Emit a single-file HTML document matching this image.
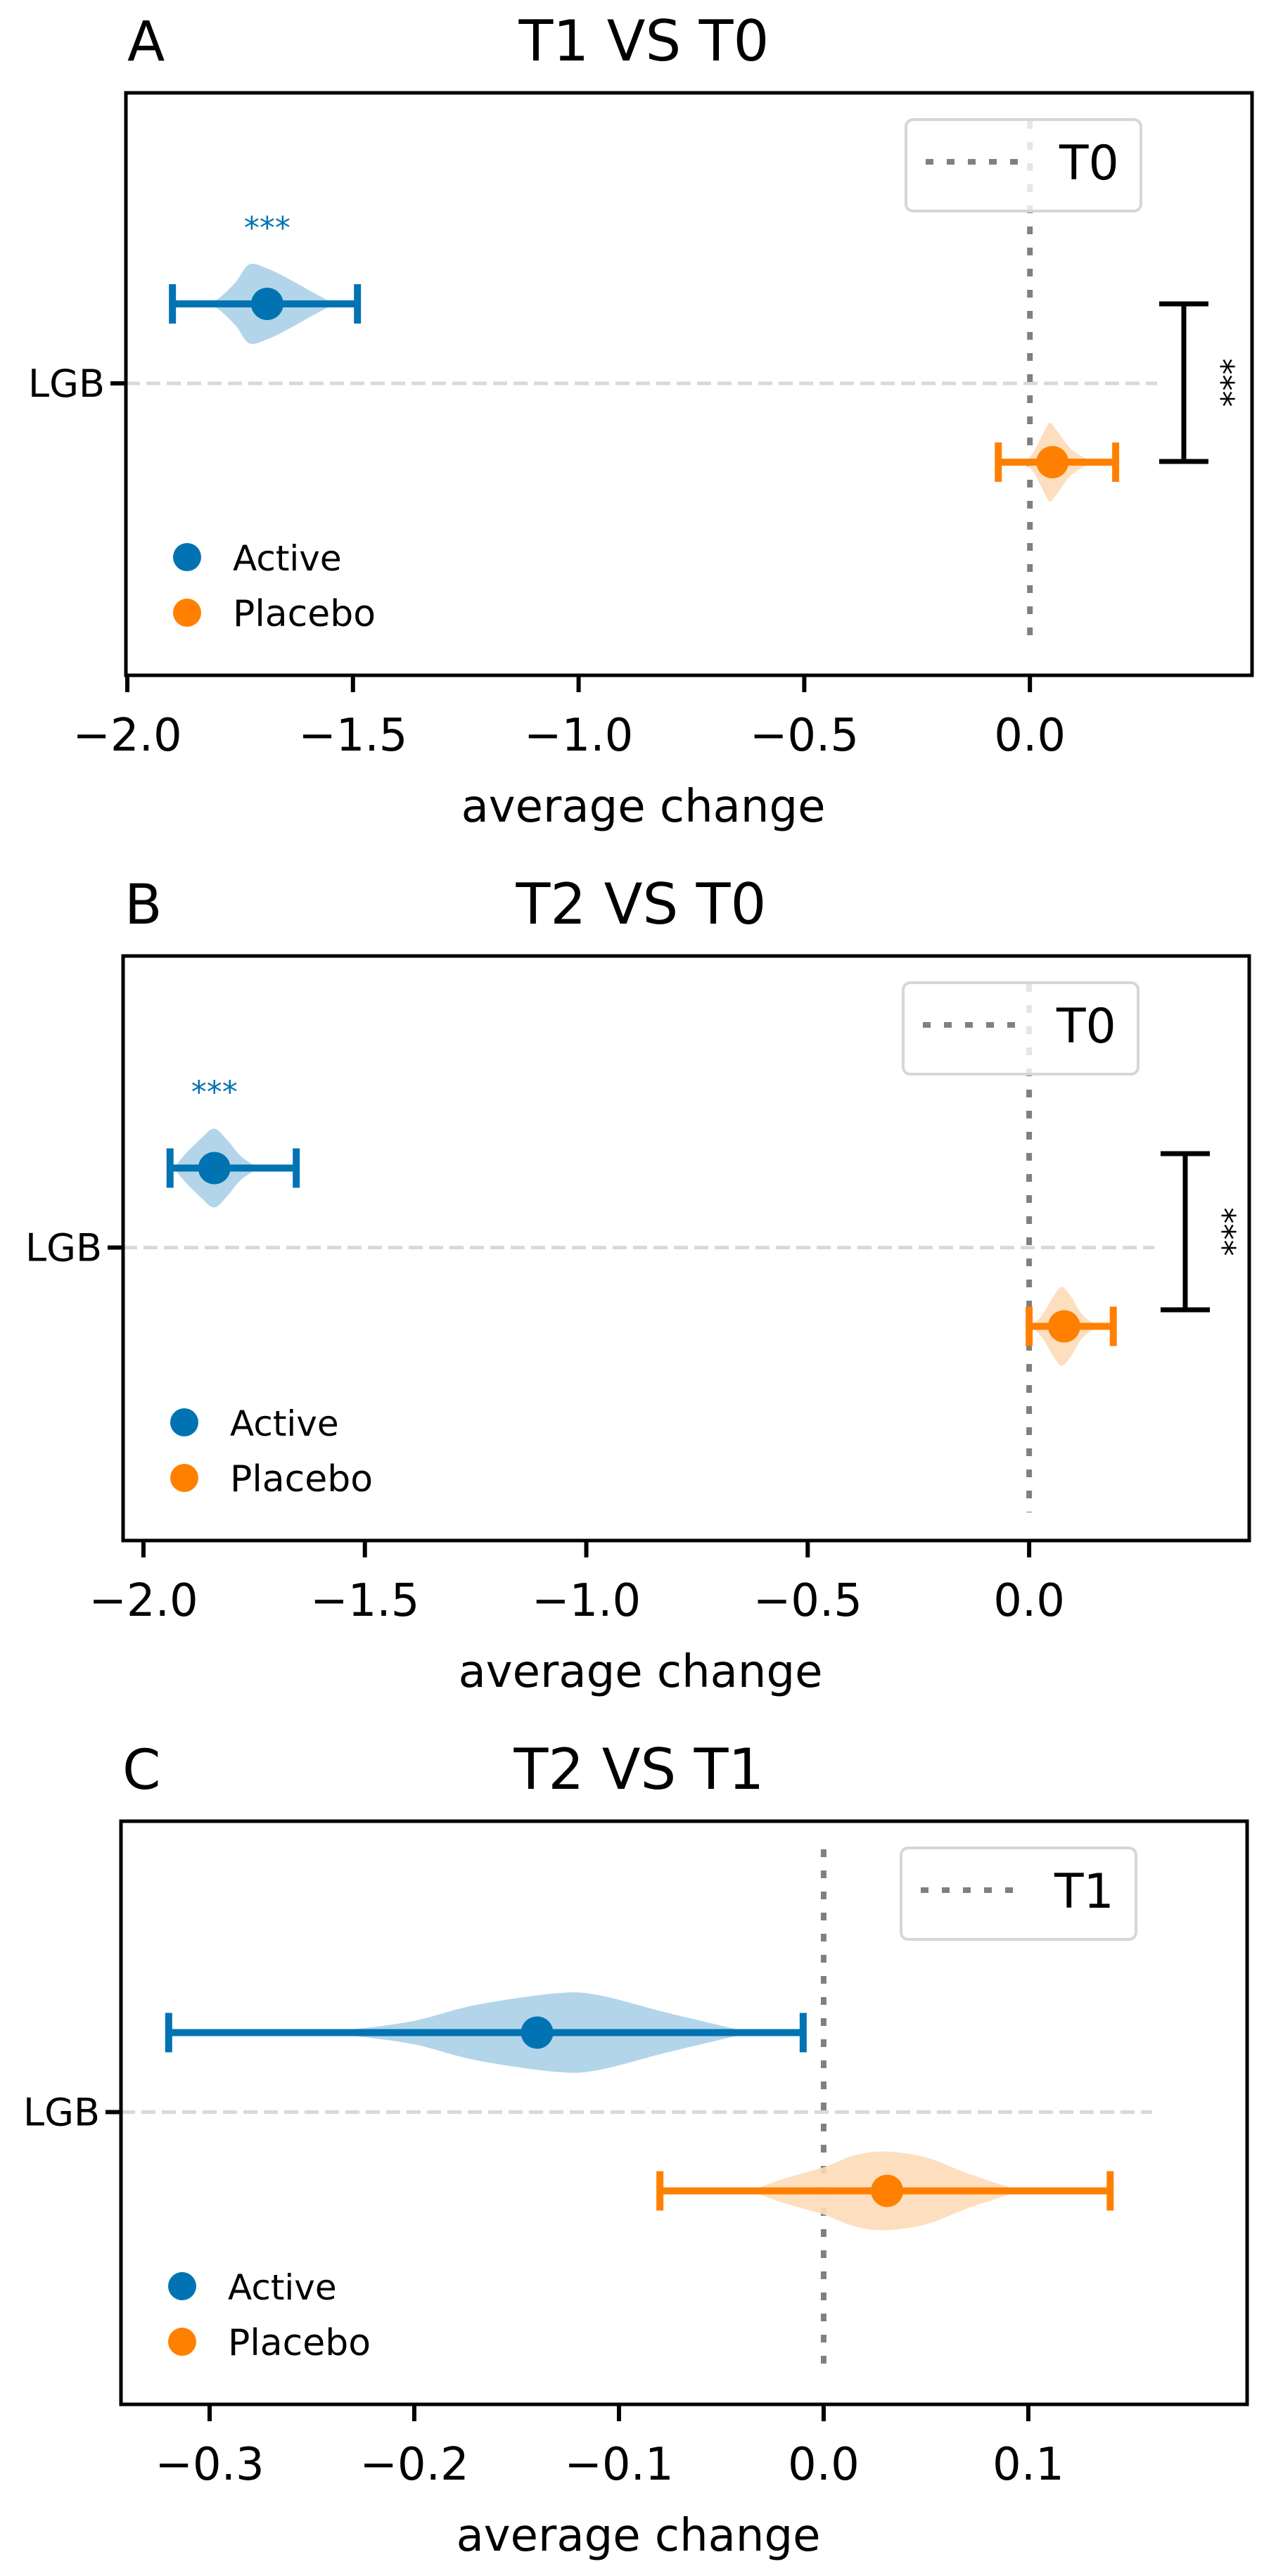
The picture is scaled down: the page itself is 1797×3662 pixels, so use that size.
<!DOCTYPE html>
<html><head><meta charset="utf-8">
<style>
html,body{margin:0;padding:0;background:#fff;}
svg{display:block;font-family:"DejaVu Sans","Liberation Sans",sans-serif;}
</style></head>
<body>
<svg id="fig" xmlns="http://www.w3.org/2000/svg" width="1797" height="3662" viewBox="0 0 1797 3662"></svg>
<script>
// ---------------- DATA ----------------
const panelLetters = ["A", "B", "C"];
const panelTitles = ["T1 VS T0", "T2 VS T0", "T2 VS T1"];
const refLabels = ["T0", "T0", "T1"];
const categories = ["LGB"];
const groupNames = ["Active", "Placebo"];
const xTicksA = [-2.0, -1.5, -1.0, -0.5, 0.0];
const xTicksB = [-2.0, -1.5, -1.0, -0.5, 0.0];
const xTicksC = [-0.3, -0.2, -0.1, 0.0, 0.1];
const xTickLabelsA = ["\u22122.0", "\u22121.5", "\u22121.0", "\u22120.5", "0.0"];
const xTickLabelsB = ["\u22122.0", "\u22121.5", "\u22121.0", "\u22120.5", "0.0"];
const xTickLabelsC = ["\u22120.3", "\u22120.2", "\u22120.1", "0.0", "0.1"];
// means
const activeMean = [-1.69, -1.84, -0.14];
const placeboMean = [0.05, 0.079, 0.031];
// error bar lows/highs
const activeLow = [-1.90, -1.94, -0.32];
const activeHigh = [-1.49, -1.655, -0.01];
const placeboLow = [-0.07, 0.0, -0.08];
const placeboHigh = [0.19, 0.19, 0.14];
// violin profiles (value, relative density)
const activeViolinA = [[-1.83,0],[-1.80,0.12],[-1.76,0.55],[-1.73,1],[-1.69,0.9],[-1.64,0.62],[-1.59,0.3],[-1.54,0]];
const placeboViolinA = [[-0.01,0],[0.01,0.3],[0.035,0.85],[0.045,1],[0.06,0.8],[0.09,0.35],[0.12,0.12],[0.15,0]];
const activeViolinB = [[-1.93,0],[-1.91,0.3],[-1.87,0.75],[-1.84,1],[-1.81,0.7],[-1.78,0.3],[-1.74,0]];
const placeboViolinB = [[0.005,0],[0.03,0.3],[0.06,0.85],[0.075,1],[0.095,0.75],[0.12,0.3],[0.155,0]];
const activeViolinC = [[-0.25,0],[-0.23,0.08],[-0.20,0.3],[-0.17,0.7],[-0.13,1],[-0.11,0.95],[-0.08,0.55],[-0.06,0.3],[-0.036,0]];
const placeboViolinC = [[-0.036,0],[-0.02,0.3],[0.0,0.6],[0.015,0.9],[0.03,1],[0.05,0.85],[0.07,0.45],[0.096,0]];
// significance flags
const activeVsRefSig = ["***", "***", ""];
const betweenGroupSig = ["***", "***", ""];

// ---------------- LAYOUT ----------------
const panels = [
  {left:179, right:1780, top:132, bottom:960, xmin:-2.0031, xmax:0.4922, ticks:xTicksA, labels:xTickLabelsA, av:activeViolinA, pv:placeboViolinA, bracketX:1683, bracketTop:432, bracketBot:656},
  {left:175, right:1776, top:1359, bottom:2190, xmin:-2.046, xmax:0.497, ticks:xTicksB, labels:xTickLabelsB, av:activeViolinB, pv:placeboViolinB, bracketX:1685, bracketTop:1640, bracketBot:1862},
  {left:172, right:1773, top:2589, bottom:3418, xmin:-0.3433, xmax:0.2069, ticks:xTicksC, labels:xTickLabelsC, av:activeViolinC, pv:placeboViolinC, bracketX:0, bracketTop:0, bracketBot:0}
];
const BLUE = "#0173b2", BLUE_L = "#b3d5ea", ORANGE = "#ff8000", ORANGE_L = "#fddbb8";
const NS = "http://www.w3.org/2000/svg";
const fig = document.getElementById("fig");

function mk(tag, attrs, parent) {
  const e = document.createElementNS(NS, tag);
  for (const k in attrs) e.setAttribute(k, attrs[k]);
  (parent || fig).appendChild(e);
  return e;
}
function violinPath(prof, sx, cy, halfMax) {
  const top = prof.map(p => [sx(p[0]), cy - p[1] * halfMax]);
  const bot = prof.slice().reverse().map(p => [sx(p[0]), cy + p[1] * halfMax]);
  const pts = top.concat(bot);
  // smooth via Catmull-Rom
  let d = "M" + pts[0][0] + "," + pts[0][1];
  for (let i = 0; i < pts.length - 1; i++) {
    const p0 = pts[Math.max(0, i - 1)], p1 = pts[i], p2 = pts[i + 1], p3 = pts[Math.min(pts.length - 1, i + 2)];
    const c1 = [p1[0] + (p2[0] - p0[0]) / 6, p1[1] + (p2[1] - p0[1]) / 6];
    const c2 = [p2[0] - (p3[0] - p1[0]) / 6, p2[1] - (p3[1] - p1[1]) / 6];
    d += " C" + c1[0] + "," + c1[1] + " " + c2[0] + "," + c2[1] + " " + p2[0] + "," + p2[1];
  }
  return d + " Z";
}

panels.forEach((P, i) => {
  const g = mk("g", {});
  
  
  const sx = v => P.left + (v - P.xmin) / (P.xmax - P.xmin) * (P.right - P.left);
  const cy = (P.top + P.bottom) / 2 - 1;
  const yA = cy - 113, yP = cy + 112;

  // titles
  const letter = mk("text", {x:P.left + 2, y:P.top - 46, "font-size":78, fill:"#000"}, g);
  letter.textContent = panelLetters[i];
  
  
  const title = mk("text", {x:(P.left + P.right) / 2 - 64, y:P.top - 46, "font-size":80, "text-anchor":"middle", fill:"#000"}, g);
  title.textContent = panelTitles[i];
  
  

  // grid line at category
  const grid = mk("line", {x1:P.left, x2:P.right - 135, y1:cy, y2:cy, stroke:"#d9d9d9", "stroke-width":5, "stroke-dasharray":"20 9"}, g);
  
  

  // reference vertical line at 0
  const vl = mk("line", {x1:sx(0), x2:sx(0), y1:P.top + 40, y2:P.bottom - 40, stroke:"#808080", "stroke-width":8, "stroke-dasharray":"11 19"}, g);
  
  

  // violins
  const va = mk("path", {d:violinPath(P.av, sx, yA, 56), fill:BLUE_L}, g);
  
  
  const vp = mk("path", {d:violinPath(P.pv, sx, yP, 56), fill:ORANGE_L, "fill-opacity":0.9}, g);
  
  

  // error bars
  [[activeLow[i], activeHigh[i], activeMean[i], yA, BLUE, 'active'], [placeboLow[i], placeboHigh[i], placeboMean[i], yP, ORANGE, 'placebo']].forEach(e => {
    const eb = mk("g", {stroke:e[4], "stroke-width":10}, g);
    
    
    mk("line", {x1:sx(e[0]), x2:sx(e[1]), y1:e[3], y2:e[3]}, eb);
    mk("line", {x1:sx(e[0]), x2:sx(e[0]), y1:e[3] - 28, y2:e[3] + 28}, eb);
    mk("line", {x1:sx(e[1]), x2:sx(e[1]), y1:e[3] - 28, y2:e[3] + 28}, eb);
    const dot = mk("circle", {cx:sx(e[2]), cy:e[3], r:23, fill:e[4]}, g);
    
    
  });

  // active vs reference significance
  if (activeVsRefSig[i]) {
    const st = mk("text", {x:sx(activeMean[i]), y:yA - 93, "font-size":44, "text-anchor":"middle", fill:BLUE}, g);
    st.textContent = activeVsRefSig[i];
    
    
  }
  // between-group bracket
  if (betweenGroupSig[i]) {
    const br = mk("g", {stroke:"#000", "stroke-width":7}, g);
    
    
    mk("line", {x1:P.bracketX, x2:P.bracketX, y1:P.bracketTop, y2:P.bracketBot}, br);
    mk("line", {x1:P.bracketX - 35, x2:P.bracketX + 35, y1:P.bracketTop, y2:P.bracketTop}, br);
    mk("line", {x1:P.bracketX - 35, x2:P.bracketX + 35, y1:P.bracketBot, y2:P.bracketBot}, br);
    const bs = mk("text", {x:0, y:0, "font-size":46, "text-anchor":"middle", fill:"#000", transform:"translate(" + (P.bracketX + 38) + "," + ((P.bracketTop + P.bracketBot) / 2) + ") rotate(90)"}, g);
    bs.textContent = betweenGroupSig[i];
    
    
  }

  // reference legend (upper right)
  const lg = mk("g", {}, g);
  
  
  const lx = P.right - 492, ly = P.top + 38;
  mk("rect", {x:lx, y:ly, width:334, height:130, rx:10, fill:"#fff", "fill-opacity":0.8, stroke:"#d6d6d6", "stroke-width":4}, lg);
  mk("line", {x1:lx + 28, x2:lx + 162, y1:ly + 60, y2:ly + 60, stroke:"#808080", "stroke-width":8, "stroke-dasharray":"11 19"}, lg);
  const lt = mk("text", {x:lx + 218, y:ly + 85, "font-size":68, fill:"#000"}, lg);
  lt.textContent = refLabels[i];

  // group legend (lower left)
  const gl = mk("g", {}, g);
  
  
  [[BLUE, groupNames[0], P.bottom - 168, 50], [ORANGE, groupNames[1], P.bottom - 89, 52]].forEach(l => {
    mk("circle", {cx:P.left + 87, cy:l[2], r:20, fill:l[0]}, gl);
    const t = mk("text", {x:P.left + 152, y:l[2] + 19, "font-size":l[3], fill:"#000"}, gl);
    t.textContent = l[1];
  });

  // axes frame
  const fr = mk("rect", {x:P.left, y:P.top, width:P.right - P.left, height:P.bottom - P.top, fill:"none", stroke:"#000", "stroke-width":5}, g);
  
  

  // y tick + label
  mk("line", {x1:P.left - 22, x2:P.left, y1:cy, y2:cy, stroke:"#000", "stroke-width":6}, g);
  const yl = mk("text", {x:P.left - 30, y:cy + 19, "font-size":54, "text-anchor":"end", fill:"#000"}, g);
  yl.textContent = categories[0];
  
  

  // x ticks
  P.ticks.forEach((t, k) => {
    mk("line", {x1:sx(t), x2:sx(t), y1:P.bottom, y2:P.bottom + 24, stroke:"#000", "stroke-width":6}, g);
    const tl = mk("text", {x:sx(t), y:P.bottom + 107, "font-size":64, "text-anchor":"middle", fill:"#000"}, g);
    tl.textContent = P.labels[k];
    
    
  });
  const xl = mk("text", {x:(P.left + P.right) / 2 - 65, y:P.bottom + 208, "font-size":64, "text-anchor":"middle", fill:"#000"}, g);
  xl.textContent = "average change";
  
  
});
</script>
</body></html>
